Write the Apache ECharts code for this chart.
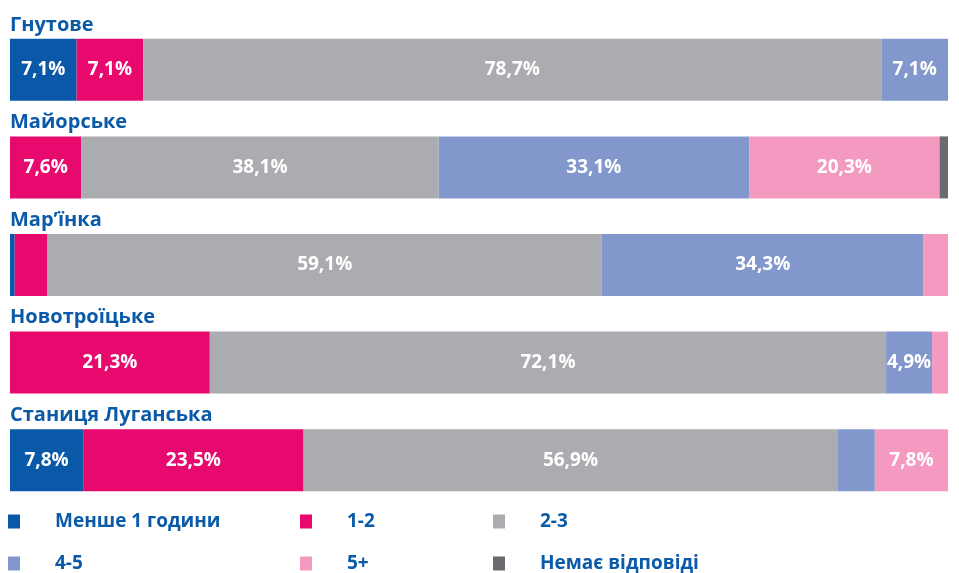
<!DOCTYPE html>
<html>
<head>
<meta charset="utf-8">
<script src="https://cdn.jsdelivr.net/npm/echarts@6/dist/echarts.min.js"></script>
<style>html,body{margin:0;padding:0;background:#fff;}#c{width:959px;height:573px;}</style>
</head>
<body>
<div id="c"></div>
<script>
const categories = ['Гнутове', 'Майорське', 'Мар’їнка', 'Новотроїцьке', 'Станиця Луганська'];
const seriesNames = ['Менше 1 години', '1-2', '2-3', '4-5', '5+', 'Немає відповіді'];
const lessThan1 = [7.1, 0, 0.5, 0, 7.8];
const h1to2 = [7.1, 7.6, 3.5, 21.3, 23.5];
const h2to3 = [78.7, 38.1, 59.1, 72.1, 56.9];
const h4to5 = [7.1, 33.1, 34.3, 4.9, 4.0];
const h5plus = [0, 20.3, 2.6, 1.7, 7.8];
const noAnswer = [0, 0.9, 0, 0, 0];
const colors = ['#0a59a8', '#e8096f', '#abacaf', '#8298cc', '#f49ac1', '#6a6b6f'];
const values = [lessThan1, h1to2, h2to3, h4to5, h5plus, noAnswer];

const FONT = 'Open Sans';
const BLUE = '#0a5aa8';

const chart = echarts.init(document.getElementById('c'), null, {renderer: 'canvas'});

const series = seriesNames.map((name, i) => ({
  name: name,
  type: 'bar',
  stack: 'total',
  barWidth: 62,
  itemStyle: {color: colors[i]},
  label: {
    show: true,
    position: 'inside',
    color: '#fff',
    fontFamily: FONT,
    fontWeight: 'bold',
    fontSize: 19,
    formatter: p => p.value >= 4.5 ? p.value.toFixed(1).replace('.', ',') + '%' : ''
  },
  emphasis: {disabled: true},
  data: values[i]
}));

const legendPos = [
  [8, 512], [300, 512], [493, 512],
  [8, 554], [300, 554], [493, 554]
];
const legends = seriesNames.map((name, i) => ({
  data: [name],
  left: legendPos[i][0],
  top: legendPos[i][1],
  padding: 0,
  itemWidth: 12,
  itemHeight: 14,
  icon: 'rect',
  selectedMode: false,
  textStyle: {
    color: BLUE,
    fontFamily: FONT,
    fontWeight: 'bold',
    fontSize: 19,
    padding: [0, 0, 0, 30]
  }
}));

chart.setOption({
  animation: false,
  color: colors,
  grid: {left: 10, right: 11, top: 21, height: 488, containLabel: false},
  xAxis: {type: 'value', min: 0, max: 100, show: false},
  yAxis: {
    type: 'category',
    data: categories,
    inverse: true,
    show: true,
    axisLine: {show: false},
    axisTick: {show: false},
    axisLabel: {show: false}
  },
  legend: legends,
  series: series
});

// Row titles positioned from the category axis
const titles = categories.map(c => {
  const y = chart.convertToPixel({yAxisIndex: 0}, c);
  return {
    type: 'text',
    left: 10,
    top: y - 55,
    style: {
      text: c,
      fill: BLUE,
      font: 'bold 20px "' + FONT + '"'
    }
  };
});
chart.setOption({graphic: titles});
</script>
</body>
</html>
